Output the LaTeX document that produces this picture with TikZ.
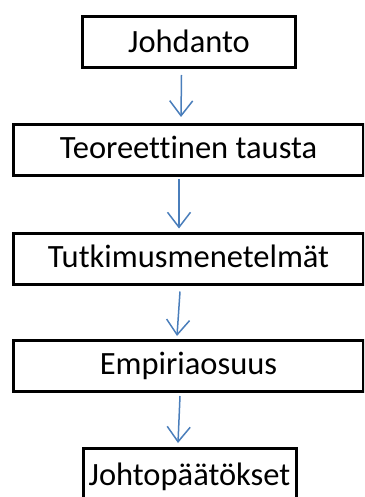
\documentclass[tikz,border=0pt]{standalone}
\usepackage{fontspec}
\setmainfont[Ligatures={NoCommon}]{Carlito}
\usetikzlibrary{arrows.meta}
\definecolor{arrowblue}{RGB}{74,126,187}
\tikzset{
  box/.style={draw=black, line width=3pt, rectangle, inner sep=0pt, align=center,
    font=\fontsize{32.5}{38}\selectfont, text depth=0pt},
  smallbox/.style={box, minimum width=213pt, minimum height=51pt, text height=22pt},
  widebox/.style={box, minimum width=350pt, minimum height=51pt, text height=17pt},
  arr/.style={draw=arrowblue, line width=1.5pt,
    -{Straight Barb[length=15pt,width=23pt,line width=1.5pt]}}
}
\begin{document}
\begin{tikzpicture}[x=1pt,y=1pt]
\clip (0,0) rectangle (364,-497);
\node[smallbox] (b1) at (189,-42) {Johdanto};
\node[widebox] (b2) at (188.5,-150) {Teoreettinen tausta};
\node[widebox] (b3) at (188.5,-258.5) {Tutkimusmenetelmät};
\node[widebox] (b4) at (188.5,-366) {Empiriaosuus};
\node[smallbox] (b5) at (189.5,-474) {Johtopäätökset};
\draw[arr] ([xshift=-7.5pt,yshift=-6pt]b1.south) -- ([xshift=-7.5pt,yshift=6pt]b2.north);
\draw[arr] ([xshift=-9.5pt,yshift=-2pt]b2.south) -- ([xshift=-9.5pt,yshift=3pt]b3.north);
\draw[arr] ([xshift=-8.5pt,yshift=-6pt]b3.south) -- ([xshift=-11.5pt,yshift=3pt]b4.north);
\draw[arr] ([xshift=-8.5pt,yshift=-3pt]b4.south) -- ([xshift=-11.5pt,yshift=4pt]b5.north);
\end{tikzpicture}
\end{document}
